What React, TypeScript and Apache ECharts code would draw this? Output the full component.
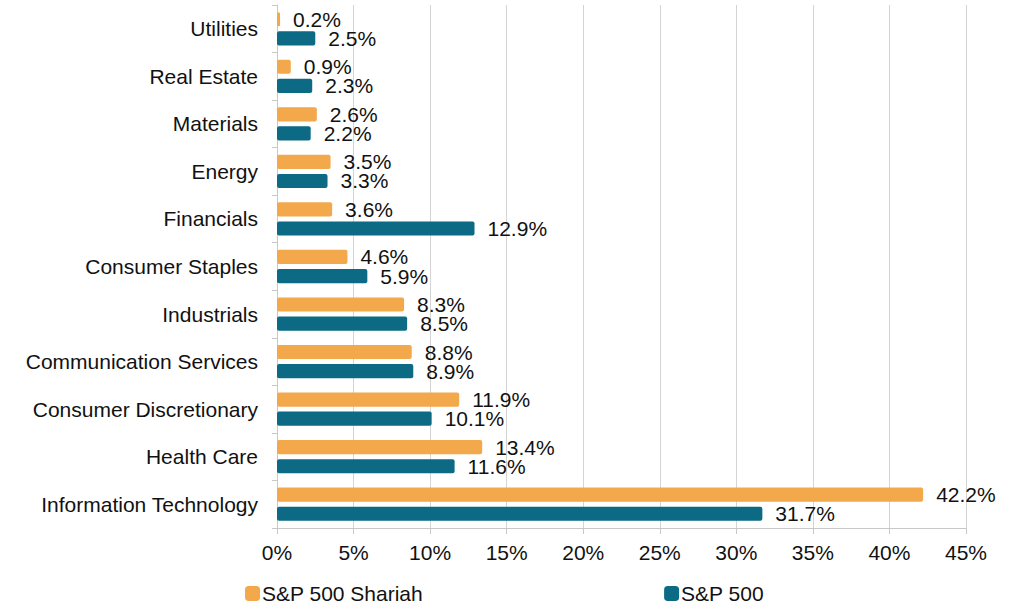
import React, { useEffect, useRef } from "react";
import * as echarts from "echarts";

const categories = [
  "Information Technology",
  "Health Care",
  "Consumer Discretionary",
  "Communication Services",
  "Industrials",
  "Consumer Staples",
  "Financials",
  "Energy",
  "Materials",
  "Real Estate",
  "Utilities",
];
const shariahValues = [42.2, 13.4, 11.9, 8.8, 8.3, 4.6, 3.6, 3.5, 2.6, 0.9, 0.2];
const sp500Values = [31.7, 11.6, 10.1, 8.9, 8.5, 5.9, 12.9, 3.3, 2.2, 2.3, 2.5];
const seriesNames = ["S&P 500 Shariah", "S&P 500"];
const xMin = 0;
const xMax = 45;
const xStep = 5;

const ORANGE = "#F2A84B";
const TEAL = "#0C6A84";
const FONT = "'Liberation Sans', Arial, sans-serif";

export default function App() {
  const ref = useRef<HTMLDivElement>(null);
  useEffect(() => {
    if (!ref.current) return;
    const chart = echarts.init(ref.current, undefined, { renderer: "svg" });
    const label = {
      show: true,
      position: "right",
      distance: 13,
      fontSize: 21,
      fontFamily: FONT,
      color: "#111",
      formatter: (p: any) => `${Number(p.value).toFixed(1)}%`,
    };
    chart.setOption({
      animation: false,
      backgroundColor: "#fff",
      textStyle: { fontFamily: FONT },
      grid: { left: 277, right: 53, top: 5, bottom: 79, containLabel: false },
      legend: {
        top: 578,
        left: 240,
        itemWidth: 15,
        itemHeight: 15,
        itemGap: 241,
        icon: "roundRect",
        textStyle: { fontSize: 21, fontFamily: FONT, color: "#111", padding: [0, 0, 0, -3] },
        data: seriesNames,
      },
      xAxis: {
        type: "value",
        min: xMin,
        max: xMax,
        interval: xStep,
        axisLine: { show: true, lineStyle: { color: "#c8c8c8", width: 1 } },
        axisTick: { show: true, length: 6, lineStyle: { color: "#c8c8c8" } },
        splitLine: { show: true, lineStyle: { color: "#d4d4d4", width: 1 } },
        axisLabel: {
          fontSize: 21,
          fontFamily: FONT,
          color: "#111",
          margin: 14,
          formatter: "{value}%",
        },
      },
      yAxis: {
        type: "category",
        data: categories,
        axisLine: { show: true, lineStyle: { color: "#c8c8c8", width: 1 } },
        axisTick: { show: true, length: 5, alignWithLabel: false, lineStyle: { color: "#c8c8c8" } },
        axisLabel: { fontSize: 21, fontFamily: FONT, color: "#111", margin: 19 },
        splitLine: { show: false },
      },
      series: [
        {
          name: seriesNames[0],
          type: "bar",
          data: shariahValues,
          itemStyle: { color: ORANGE, borderRadius: 2 },
          barGap: "35%",
          barCategoryGap: "30%",
          label,
        },
        {
          name: seriesNames[1],
          type: "bar",
          data: sp500Values,
          itemStyle: { color: TEAL, borderRadius: 2 },
          barGap: "35%",
          barCategoryGap: "30%",
          label,
        },
      ],
    });
    return () => chart.dispose();
  }, []);
  return (
    <div
      ref={ref}
      style={{ position: "absolute", left: 0, top: 0, width: 1019, height: 607, background: "#fff" }}
    />
  );
}
